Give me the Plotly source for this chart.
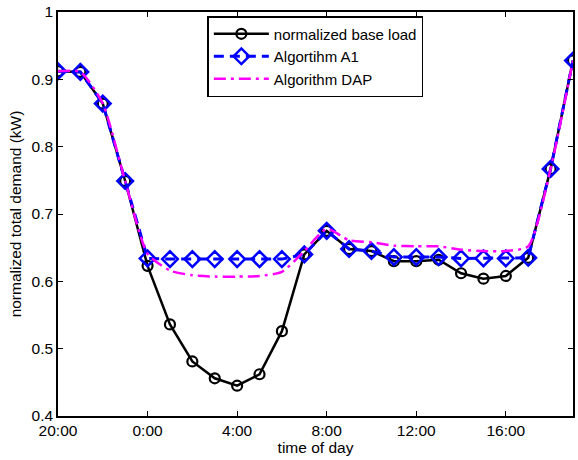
import plotly.graph_objects as go

hours = list(range(20, 44))  # 20:00 .. 19:00 next day (as hours since previous midnight)
tick_vals = [20, 24, 28, 32, 36, 40]
tick_text = ["20:00", "0:00", "4:00", "8:00", "12:00", "16:00"]

base_load = [0.912, 0.911, 0.864, 0.749, 0.623, 0.536, 0.481, 0.456, 0.445, 0.462,
             0.526, 0.640, 0.675, 0.648, 0.645, 0.630, 0.630, 0.632, 0.612, 0.604,
             0.608, 0.635, 0.767, 0.928]
algo_a1 = [0.912, 0.911, 0.864, 0.749, 0.634, 0.633, 0.633, 0.633, 0.633, 0.633,
           0.633, 0.640, 0.675, 0.648, 0.645, 0.636, 0.636, 0.636, 0.634, 0.634,
           0.634, 0.635, 0.767, 0.928]
algo_dap = [0.912, 0.911, 0.864, 0.749, 0.641, 0.616, 0.609, 0.607, 0.607, 0.608,
            0.614, 0.645, 0.678, 0.661, 0.658, 0.653, 0.652, 0.652, 0.647, 0.645,
            0.645, 0.652, 0.767, 0.928]

FONT = "Liberation Sans, Arial, sans-serif"

fig = go.Figure()
fig.add_trace(go.Scatter(
    x=hours, y=base_load, name="normalized base load", mode="lines+markers",
    line=dict(color="black", width=2.5),
    marker=dict(symbol="circle-open", size=10, color="black", line=dict(width=2.2)),
))
fig.add_trace(go.Scatter(
    x=hours, y=algo_a1, name="Algortihm A1", mode="lines+markers",
    line=dict(color="#0000ff", width=3, dash="10px,6px"),
    marker=dict(symbol="diamond-open", size=12, color="#0000ff", line=dict(width=2.5)),
))
fig.add_trace(go.Scatter(
    x=hours, y=algo_dap, name="Algorithm DAP", mode="lines",
    line=dict(color="#ff00ff", width=2.5, dash="12px,5px,3px,5px", shape="spline", smoothing=0.6),
))

axis_common = dict(
    showline=True, linecolor="black", linewidth=1.5, mirror="ticks",
    ticks="inside", ticklen=5, tickwidth=1, tickcolor="black",
    showgrid=False, zeroline=False,
    tickfont=dict(family=FONT, size=15.5, color="black"),
)

fig.update_xaxes(
    range=[20, 43], tickvals=tick_vals, ticktext=tick_text,
    title=dict(text="time of day", font=dict(family=FONT, size=15.5, color="black"), standoff=2),
    **axis_common,
)
fig.update_yaxes(
    range=[0.4, 1.0], tickvals=[0.4, 0.5, 0.6, 0.7, 0.8, 0.9, 1.0],
    ticktext=["0.4", "0.5", "0.6", "0.7", "0.8", "0.9", "1"],
    title=dict(text="normalized total demand (kW)", font=dict(family=FONT, size=15.5, color="black"), standoff=6),
    **axis_common,
)

fig.update_layout(
    width=578, height=460,
    margin=dict(l=58, r=3, t=11, b=44),
    paper_bgcolor="white", plot_bgcolor="white",
    font=dict(family=FONT, size=15.5, color="black"),
    legend=dict(
        x=0.29, y=0.99, xanchor="left", yanchor="top",
        bgcolor="white", bordercolor="black", borderwidth=1.5,
        font=dict(family=FONT, size=15, color="black"),
        tracegroupgap=0, itemwidth=55,
    ),
    showlegend=True,
)

fig.write_html("out.html", config={"displayModeBar": False},
               post_script="document.body.style.margin='0';")
